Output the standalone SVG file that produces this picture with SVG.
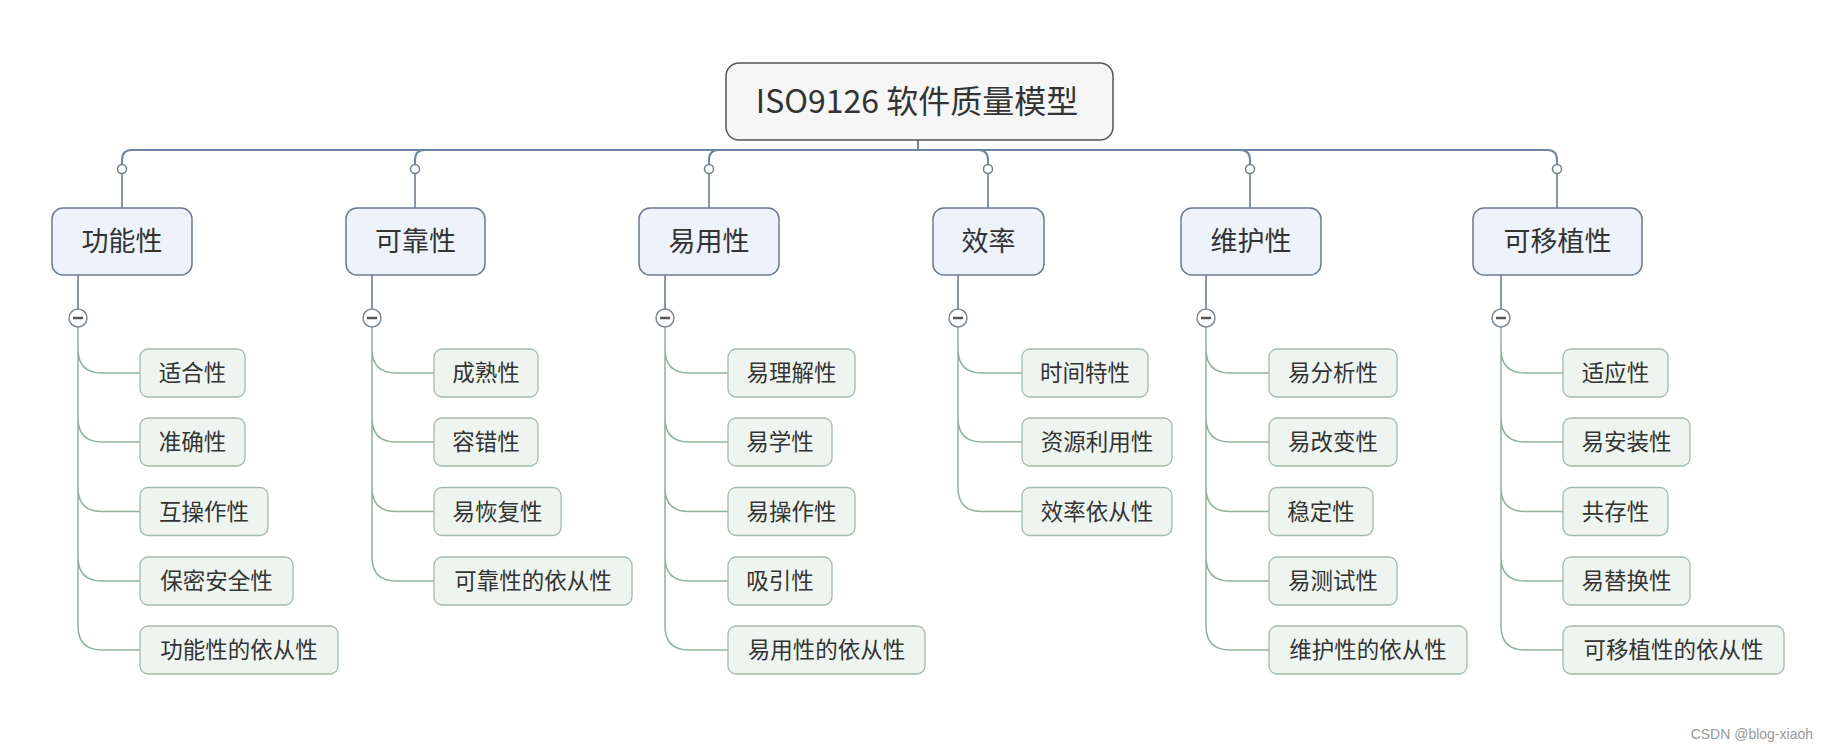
<svg xmlns="http://www.w3.org/2000/svg" width="1828" height="752" viewBox="0 0 1828 752">
<style>
text{font-family:"Noto Sans CJK SC","Noto Sans",sans-serif;fill:#333;text-anchor:middle}
.root rect{fill:#f6f6f6;stroke:#555;stroke-width:1.5}
.root text{font-size:32px}
.main rect{fill:#eef2fb;stroke:#6b7b90;stroke-width:1.5}
.main text{font-size:27px}
.leaf rect{fill:#eef5f0;stroke:#a3bba9;stroke-width:1.3}
.leaf text{font-size:22.5px}
.top{fill:none;stroke:#6a86a6;stroke-width:2}
.br{fill:none;stroke:#6f7d8e;stroke-width:1.6}
.ch{fill:none;stroke:#8fb39b;stroke-width:1.5}
.dot{fill:#fff;stroke:#6f7d8e;stroke-width:1.5}
.col{fill:#fff;stroke:#7f8a97;stroke-width:1.5}
.minus{stroke:#555;stroke-width:2.5}
.wm{font-family:"Liberation Sans",Arial,sans-serif;font-size:14px;fill:#999;text-anchor:end}
</style>
<rect width="1828" height="752" fill="#fff"/>
<g id="connectors">
<path class="top" d="M918 140 L918 150"/>
<path class="top" d="M132 150 L1547 150"/>
<path class="top" d="M132 150 Q122 150 122 160 L122 165"/>
<path class="top" d="M1547 150 Q1557 150 1557 160 L1557 165"/>
<path class="top" d="M425 150 Q415 150 415 160 L415 165"/>
<path class="top" d="M719 150 Q709 150 709 160 L709 165"/>
<path class="top" d="M978 150 Q988 150 988 160 L988 165"/>
<path class="top" d="M1240 150 Q1250 150 1250 160 L1250 165"/>
<path class="br" d="M122 173.5 V208 M415 173.5 V208 M709 173.5 V208 M988 173.5 V208 M1250 173.5 V208 M1557 173.5 V208"/>
<circle class="dot" cx="122" cy="169" r="4.5"/>
<circle class="dot" cx="415" cy="169" r="4.5"/>
<circle class="dot" cx="709" cy="169" r="4.5"/>
<circle class="dot" cx="988" cy="169" r="4.5"/>
<circle class="dot" cx="1250" cy="169" r="4.5"/>
<circle class="dot" cx="1557" cy="169" r="4.5"/>
<path class="br" d="M78 275 V309 M372 275 V309 M665 275 V309 M958 275 V309 M1206 275 V309 M1501 275 V309"/>
<!-- column 1 -->
<path class="ch" d="M78 327 V626 M78 349 Q78 373 102 373 H140 M78 418 Q78 442 102 442 H140 M78 487.5 Q78 511.5 102 511.5 H140 M78 557 Q78 581 102 581 H140 M78 626 Q78 650 102 650 H140"/>
<!-- column 2 -->
<path class="ch" d="M372 327 V557 M372 349 Q372 373 396 373 H434 M372 418 Q372 442 396 442 H434 M372 487.5 Q372 511.5 396 511.5 H434 M372 557 Q372 581 396 581 H434"/>
<!-- column 3 -->
<path class="ch" d="M665 327 V626 M665 349 Q665 373 689 373 H728 M665 418 Q665 442 689 442 H728 M665 487.5 Q665 511.5 689 511.5 H728 M665 557 Q665 581 689 581 H728 M665 626 Q665 650 689 650 H728"/>
<!-- column 4 -->
<path class="ch" d="M958 327 V487.5 M958 349 Q958 373 982 373 H1022 M958 418 Q958 442 982 442 H1022 M958 487.5 Q958 511.5 982 511.5 H1022"/>
<!-- column 5 -->
<path class="ch" d="M1206 327 V626 M1206 349 Q1206 373 1230 373 H1269 M1206 418 Q1206 442 1230 442 H1269 M1206 487.5 Q1206 511.5 1230 511.5 H1269 M1206 557 Q1206 581 1230 581 H1269 M1206 626 Q1206 650 1230 650 H1269"/>
<!-- column 6 -->
<path class="ch" d="M1501 327 V626 M1501 349 Q1501 373 1525 373 H1563 M1501 418 Q1501 442 1525 442 H1563 M1501 487.5 Q1501 511.5 1525 511.5 H1563 M1501 557 Q1501 581 1525 581 H1563 M1501 626 Q1501 650 1525 650 H1563"/>
<g>
<circle class="col" cx="78" cy="318" r="9"/><path class="minus" d="M73 318 H83"/>
<circle class="col" cx="372" cy="318" r="9"/><path class="minus" d="M367 318 H377"/>
<circle class="col" cx="665" cy="318" r="9"/><path class="minus" d="M660 318 H670"/>
<circle class="col" cx="958" cy="318" r="9"/><path class="minus" d="M953 318 H963"/>
<circle class="col" cx="1206" cy="318" r="9"/><path class="minus" d="M1201 318 H1211"/>
<circle class="col" cx="1501" cy="318" r="9"/><path class="minus" d="M1496 318 H1506"/>
</g>
</g>
<g id="root" class="root"><rect x="726" y="63" width="387" height="77" rx="13"/><text x="917" y="113">ISO9126 软件质量模型</text></g>
<g id="n-gongneng" class="main"><rect x="52" y="208" width="140" height="67" rx="11"/><text x="122" y="251">功能性</text></g>
<g id="n-kekao" class="main"><rect x="346" y="208" width="139" height="67" rx="11"/><text x="415.5" y="251">可靠性</text></g>
<g id="n-yiyong" class="main"><rect x="639" y="208" width="140" height="67" rx="11"/><text x="709" y="251">易用性</text></g>
<g id="n-xiaolv" class="main"><rect x="933" y="208" width="111" height="67" rx="11"/><text x="988.5" y="251">效率</text></g>
<g id="n-weihu" class="main"><rect x="1181" y="208" width="140" height="67" rx="11"/><text x="1251" y="251">维护性</text></g>
<g id="n-keyizhi" class="main"><rect x="1473" y="208" width="169" height="67" rx="11"/><text x="1557.5" y="251">可移植性</text></g>

<g id="c1-1" class="leaf"><rect x="140" y="349" width="105" height="48" rx="8"/><text x="192.5" y="381">适合性</text></g>
<g id="c1-2" class="leaf"><rect x="140" y="418" width="105" height="48" rx="8"/><text x="192.5" y="450">准确性</text></g>
<g id="c1-3" class="leaf"><rect x="140" y="487.5" width="128" height="48" rx="8"/><text x="204" y="519.5">互操作性</text></g>
<g id="c1-4" class="leaf"><rect x="140" y="557" width="153" height="48" rx="8"/><text x="216.5" y="589">保密安全性</text></g>
<g id="c1-5" class="leaf"><rect x="140" y="626" width="198" height="48" rx="8"/><text x="239" y="658">功能性的依从性</text></g>

<g id="c2-1" class="leaf"><rect x="434" y="349" width="104" height="48" rx="8"/><text x="486" y="381">成熟性</text></g>
<g id="c2-2" class="leaf"><rect x="434" y="418" width="104" height="48" rx="8"/><text x="486" y="450">容错性</text></g>
<g id="c2-3" class="leaf"><rect x="434" y="487.5" width="127" height="48" rx="8"/><text x="497.5" y="519.5">易恢复性</text></g>
<g id="c2-4" class="leaf"><rect x="434" y="557" width="198" height="48" rx="8"/><text x="533" y="589">可靠性的依从性</text></g>

<g id="c3-1" class="leaf"><rect x="728" y="349" width="127" height="48" rx="8"/><text x="791.5" y="381">易理解性</text></g>
<g id="c3-2" class="leaf"><rect x="728" y="418" width="104" height="48" rx="8"/><text x="780" y="450">易学性</text></g>
<g id="c3-3" class="leaf"><rect x="728" y="487.5" width="127" height="48" rx="8"/><text x="791.5" y="519.5">易操作性</text></g>
<g id="c3-4" class="leaf"><rect x="728" y="557" width="104" height="48" rx="8"/><text x="780" y="589">吸引性</text></g>
<g id="c3-5" class="leaf"><rect x="728" y="626" width="197" height="48" rx="8"/><text x="826.5" y="658">易用性的依从性</text></g>

<g id="c4-1" class="leaf"><rect x="1022" y="349" width="126" height="48" rx="8"/><text x="1085" y="381">时间特性</text></g>
<g id="c4-2" class="leaf"><rect x="1022" y="418" width="150" height="48" rx="8"/><text x="1097" y="450">资源利用性</text></g>
<g id="c4-3" class="leaf"><rect x="1022" y="487.5" width="150" height="48" rx="8"/><text x="1097" y="519.5">效率依从性</text></g>

<g id="c5-1" class="leaf"><rect x="1269" y="349" width="128" height="48" rx="8"/><text x="1333" y="381">易分析性</text></g>
<g id="c5-2" class="leaf"><rect x="1269" y="418" width="128" height="48" rx="8"/><text x="1333" y="450">易改变性</text></g>
<g id="c5-3" class="leaf"><rect x="1269" y="487.5" width="104" height="48" rx="8"/><text x="1321" y="519.5">稳定性</text></g>
<g id="c5-4" class="leaf"><rect x="1269" y="557" width="128" height="48" rx="8"/><text x="1333" y="589">易测试性</text></g>
<g id="c5-5" class="leaf"><rect x="1269" y="626" width="198" height="48" rx="8"/><text x="1368" y="658">维护性的依从性</text></g>

<g id="c6-1" class="leaf"><rect x="1563" y="349" width="105" height="48" rx="8"/><text x="1615.5" y="381">适应性</text></g>
<g id="c6-2" class="leaf"><rect x="1563" y="418" width="127" height="48" rx="8"/><text x="1626.5" y="450">易安装性</text></g>
<g id="c6-3" class="leaf"><rect x="1563" y="487.5" width="105" height="48" rx="8"/><text x="1615.5" y="519.5">共存性</text></g>
<g id="c6-4" class="leaf"><rect x="1563" y="557" width="127" height="48" rx="8"/><text x="1626.5" y="589">易替换性</text></g>
<g id="c6-5" class="leaf"><rect x="1563" y="626" width="221" height="48" rx="8"/><text x="1673.5" y="658">可移植性的依从性</text></g>

<text class="wm" x="1813" y="739">CSDN @blog-xiaoh</text>
</svg>
